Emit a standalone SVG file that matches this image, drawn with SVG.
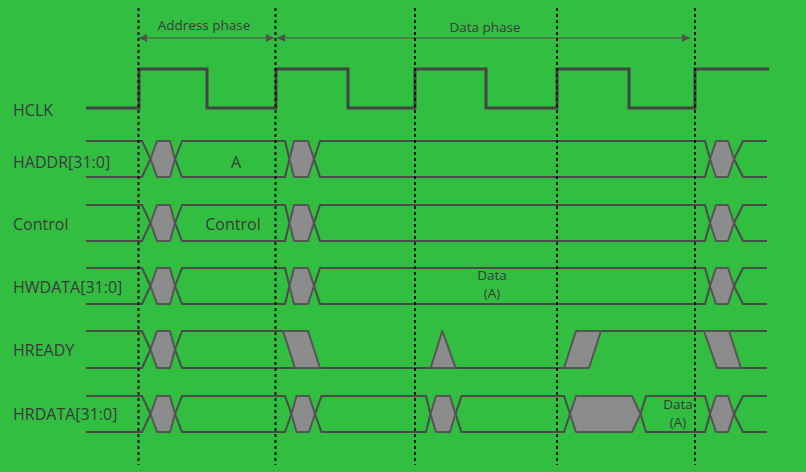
<svg xmlns="http://www.w3.org/2000/svg" width="806" height="472" viewBox="0 0 806 472">
<style>
.bg{fill:#32be41}
.lbl{font-family:"Open Sans","Noto Sans",sans-serif;font-size:16px;fill:#3a3a3a}
.sm{font-family:"Open Sans","Noto Sans",sans-serif;font-size:13.5px;fill:#3a3a3a}
.clk{fill:none;stroke:#444;stroke-width:3;stroke-linejoin:miter}
.ln{fill:none;stroke:#4a4a4a;stroke-width:2}
.hx{fill:#8c8c8c;stroke:#555;stroke-width:2;stroke-linejoin:round}
.dot{stroke:#111;stroke-width:2;stroke-dasharray:3 3}
.arr{stroke:#505050;stroke-width:1.2;fill:none}
</style>
<defs>
<marker id="ah" viewBox="0 0 10 10" refX="10" refY="5" markerWidth="8" markerHeight="8" markerUnits="userSpaceOnUse" orient="auto-start-reverse">
<path d="M0 0 L10 5 L0 10 Z" fill="#505050"/>
</marker>
</defs>
<rect class="bg" x="0" y="0" width="806" height="472"/>

<g id="connectors">
<line class="arr" x1="139" y1="38" x2="274" y2="38" marker-start="url(#ah)" marker-end="url(#ah)"/>
<line class="arr" x1="277" y1="38" x2="690" y2="38" marker-start="url(#ah)" marker-end="url(#ah)"/>
</g>
<g id="phase-labels">
<text class="sm" x="204" y="30" text-anchor="middle">Address phase</text>
<text class="sm" x="485" y="32" text-anchor="middle">Data phase</text>
</g>

<g id="hclk">
<text class="lbl" x="13" y="116">HCLK</text>
<path class="clk" d="M86 108 H139 V69 H207 V108 H276 V69 H348 V108 H415 V69 H486 V108 H557 V69 H629 V108 H695 V69 H769"/>
</g>

<g id="haddr">
<text class="lbl" x="13" y="168">HADDR[31:0]</text>
<path class="ln" d="M86 141 H142 L150.5 159 M175 159 L182 141 H285 L289.5 159 M314 159 L320 141 H705 L710 159 M734 159 L743 141 H767"/>
<path class="ln" d="M86 177 H142 L150.5 159 M175 159 L182 177 H285 L289.5 159 M314 159 L320 177 H705 L710 159 M734 159 L743 177 H767"/>
<polygon class="hx" points="150.5,159 157,141 170,141 175,159 170,177 157,177"/>
<polygon class="hx" points="289.5,159 294,141 308,141 314,159 308,177 294,177"/>
<polygon class="hx" points="710,159 716,141 728,141 734,159 728,177 716,177"/>
<text class="lbl" x="236" y="168" text-anchor="middle">A</text>
</g>

<g id="control">
<text class="lbl" x="13" y="230">Control</text>
<path class="ln" d="M86 205 H142 L150.5 223 M175 223 L182 205 H285 L289.5 223 M314 223 L320 205 H705 L710 223 M734 223 L743 205 H767"/>
<path class="ln" d="M86 241 H142 L150.5 223 M175 223 L182 241 H285 L289.5 223 M314 223 L320 241 H705 L710 223 M734 223 L743 241 H767"/>
<polygon class="hx" points="150.5,223 157,205 170,205 175,223 170,241 157,241"/>
<polygon class="hx" points="289.5,223 294,205 308,205 314,223 308,241 294,241"/>
<polygon class="hx" points="710,223 716,205 728,205 734,223 728,241 716,241"/>
<text class="lbl" x="233" y="230" text-anchor="middle">Control</text>
</g>

<g id="hwdata">
<text class="lbl" x="13" y="293">HWDATA[31:0]</text>
<path class="ln" d="M86 268 H142 L150.5 286 M175 286 L182 268 H285 L289.5 286 M314 286 L320 268 H705 L710 286 M734 286 L743 268 H767"/>
<path class="ln" d="M86 304 H142 L150.5 286 M175 286 L182 304 H285 L289.5 286 M314 286 L320 304 H705 L710 286 M734 286 L743 304 H767"/>
<polygon class="hx" points="150.5,286 157,268 170,268 175,286 170,304 157,304"/>
<polygon class="hx" points="289.5,286 294,268 308,268 314,286 308,304 294,304"/>
<polygon class="hx" points="710,286 716,268 728,268 734,286 728,304 716,304"/>
<text class="sm" x="492" y="280" text-anchor="middle">Data</text>
<text class="sm" x="492" y="298" text-anchor="middle">(A)</text>
</g>

<g id="hready">
<text class="lbl" x="13" y="356">HREADY</text>
<path class="ln" d="M86 331 H142 L150.5 349.5 M175 349.5 L182 331 H283"/>
<path class="ln" d="M86 368 H142 L150.5 349.5 M175 349.5 L182 368 H564"/>
<path class="ln" d="M576 331 H767"/>
<path class="ln" d="M717 368 H767"/>
<polygon class="hx" points="150.5,349.5 157,331 170,331 175,349.5 170,368 157,368"/>
<polygon class="hx" points="283,331 308,331 320,368 295,368"/>
<polygon class="hx" points="430.7,368 442.3,331 455.7,368"/>
<polygon class="hx" points="564,368 576,331 601,331 589,368"/>
<polygon class="hx" points="704,331 729,331 741,368 717,368"/>
</g>

<g id="hrdata">
<text class="lbl" x="13" y="420">HRDATA[31:0]</text>
<path class="ln" d="M86 396 H142 L150.5 414 M175 414 L182 396 H285 L291.5 414 M315 414 L321.5 396 H426 L430.5 414 M455.5 414 L461.5 396 H564 L570 414 M640.5 414 L646 396 H705 L710 414 M734 414 L743 396 H767"/>
<path class="ln" d="M86 432 H142 L150.5 414 M175 414 L182 432 H285 L291.5 414 M315 414 L321.5 432 H426 L430.5 414 M455.5 414 L461.5 432 H564 L570 414 M640.5 414 L646 432 H705 L710 414 M734 414 L743 432 H767"/>
<polygon class="hx" points="150.5,414 157,396 170,396 175,414 170,432 157,432"/>
<polygon class="hx" points="291.5,414 296.5,396 309,396 315,414 309,432 296.5,432"/>
<polygon class="hx" points="430.5,414 436,396 450,396 455.5,414 450,432 436,432"/>
<polygon class="hx" points="570,414 576,396 632,396 640.5,414 632,432 576,432"/>
<polygon class="hx" points="710,414 716,396 728,396 734,414 728,432 716,432"/>
<text class="sm" x="678" y="409" text-anchor="middle">Data</text>
<text class="sm" x="678" y="427" text-anchor="middle">(A)</text>
</g>

<g id="boundaries">
<line class="dot" x1="138.5" y1="8" x2="138.5" y2="465"/>
<line class="dot" x1="275.5" y1="8" x2="275.5" y2="465"/>
<line class="dot" x1="415" y1="8" x2="415" y2="465"/>
<line class="dot" x1="557" y1="8" x2="557" y2="465"/>
<line class="dot" x1="695" y1="8" x2="695" y2="465"/>
</g>
</svg>
